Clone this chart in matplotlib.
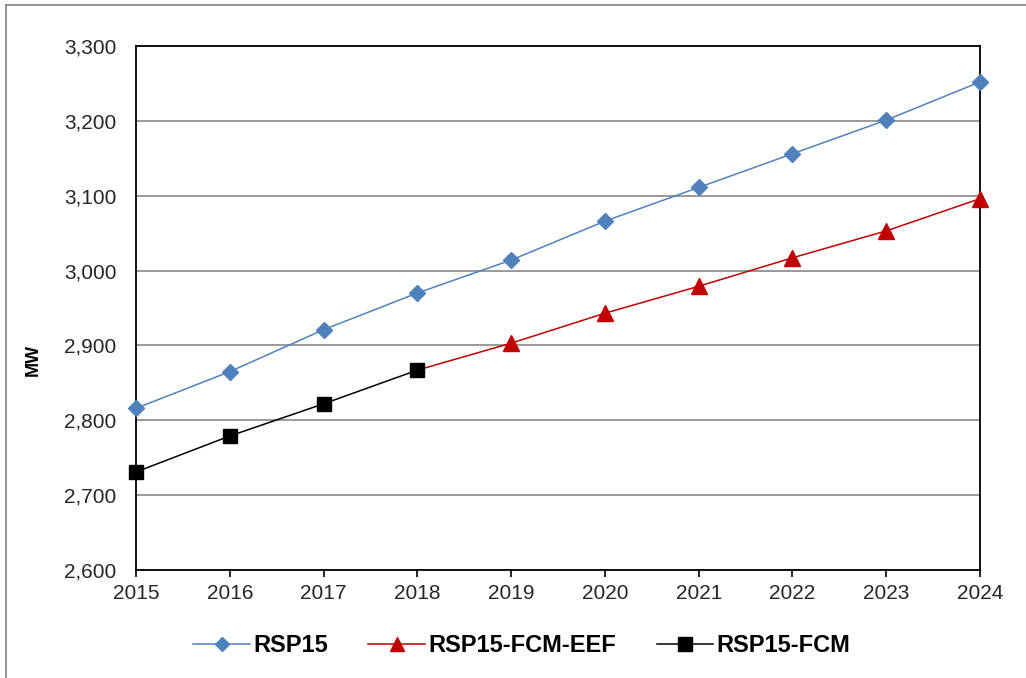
import matplotlib.pyplot as plt
from matplotlib.lines import Line2D
from matplotlib.ticker import FuncFormatter

plt.rcParams['font.family'] = ['Liberation Sans', 'DejaVu Sans']

years = [2015, 2016, 2017, 2018, 2019, 2020, 2021, 2022, 2023, 2024]
rsp15 = [2816, 2865, 2921, 2970, 3014, 3066, 3111, 3156, 3201, 3252]

# FCM-EEF continues on from the last FCM year
eef_years = [2018, 2019, 2020, 2021, 2022, 2023, 2024]
rsp15_fcm_eef = [2867, 2903, 2943, 2979, 3017, 3053, 3096]

fcm_years = [2015, 2016, 2017, 2018]
rsp15_fcm = [2731, 2779, 2822, 2867]

fig = plt.figure(figsize=(10.26, 6.78), dpi=100)
ax = fig.add_axes([0.1326, 0.1593, 0.8226, 0.7729])

ax.plot(years, rsp15, color='#4F81BD', lw=1.1, marker='D', ms=8,
        clip_on=False, zorder=3, label='RSP15')
ax.plot(eef_years, rsp15_fcm_eef, color='#C00000', lw=1.1, marker='^',
        ms=11, markevery=slice(1, None), clip_on=False, zorder=3,
        label='RSP15-FCM-EEF')
ax.plot(fcm_years, rsp15_fcm, color='black', lw=1.1, marker='s', ms=10.5,
        clip_on=False, zorder=4, label='RSP15-FCM')

ax.set_xlim(2015, 2024)
ax.set_ylim(2600, 3300)
ax.set_xticks(years)
ax.set_yticks(range(2600, 3301, 100))
ax.yaxis.set_major_formatter(FuncFormatter(lambda v, p: f'{int(v):,}'))

ax.grid(axis='y', color='#999999', lw=1.4)
ax.set_axisbelow(True)
for s in ax.spines.values():
    s.set_color('black')
    s.set_linewidth(1.3)

ax.tick_params(axis='x', direction='out', length=5, width=1.2,
               labelsize=15, labelcolor='#262626', pad=5)
ax.tick_params(axis='y', length=0, labelsize=15, labelcolor='#262626',
               pad=14)

fig.text(33 / 1026, 1 - 360 / 678, 'MW', rotation=90, fontsize=13,
         fontweight='bold', ha='center', va='center')

fig.legend(loc='center', bbox_to_anchor=(522 / 1026, 1 - 646 / 678), ncol=3,
           frameon=False, prop={'weight': 'bold', 'size': 17},
           handlelength=2.4, handletextpad=0.15, columnspacing=1.7,
           markerscale=0.9)

# frame along the left and top edges
fig.add_artist(Line2D([6 / 1026, 6 / 1026], [0, 1 - 5 / 678],
                      transform=fig.transFigure, color='#7F7F7F', lw=1.2))
fig.add_artist(Line2D([6 / 1026, 1], [1 - 5 / 678, 1 - 5 / 678],
                      transform=fig.transFigure, color='#7F7F7F', lw=1.2))

fig.savefig('out.png', dpi=100)
